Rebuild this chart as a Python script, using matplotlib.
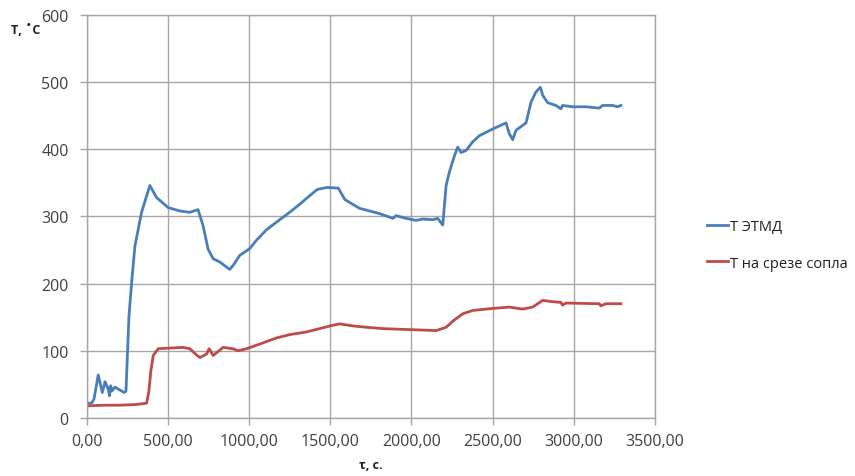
import matplotlib.pyplot as plt
from matplotlib.ticker import FuncFormatter

# ---- data ----
t_etmd = [0, 30, 45, 71, 96, 113, 133, 140, 148, 155, 174, 229, 242, 260, 277, 297,
          338, 389, 430, 502, 574, 635, 686, 717, 748, 779, 820, 881, 902, 943,
          1004, 1044, 1107, 1189, 1250, 1312, 1360, 1420, 1480, 1550, 1590, 1680,
          1805, 1886, 1906, 1968, 2029, 2070, 2132, 2162, 2193, 2214, 2234, 2265,
          2285, 2306, 2337, 2378, 2419, 2501, 2583, 2603, 2624, 2644, 2706, 2737,
          2767, 2794, 2809, 2840, 2890, 2921, 2931, 2993, 3075, 3157, 3177, 3239,
          3270, 3290]
T_etmd = [22, 22, 28, 64, 38, 54, 43, 33, 48, 40, 46, 38, 40, 150, 202, 256,
          306, 346, 328, 313, 308, 306, 310, 286, 251, 237, 232, 221, 227, 242,
          252, 264, 280, 295, 306, 318, 328, 340, 343, 342, 325, 312,
          304, 297, 301, 297, 294, 296, 295, 297, 287, 346, 366, 390,
          403, 395, 398, 411, 420, 430, 439, 423, 414, 428, 439, 470,
          485, 492, 480, 469, 465, 460, 465, 463, 463, 461, 465, 465,
          463, 465]

t_nozzle = [0, 100, 200, 300, 369, 383, 395, 410, 440, 512, 594, 635, 676, 697,
            738, 754, 779, 840, 902, 932, 984, 1066, 1168, 1250, 1353, 1435, 1517,
            1558, 1640, 1722, 1824, 1927, 2050, 2152, 2214, 2260, 2316, 2378, 2501,
            2603, 2685, 2747, 2809, 2870, 2921, 2931, 2952, 3157, 3167, 3198, 3290]
T_nozzle = [18, 19, 19, 20, 22, 40, 70, 93, 103, 104, 105, 103, 94, 90,
            95, 103, 93, 105, 103, 100, 103, 110, 119, 124, 128, 133, 138,
            140, 137, 135, 133, 132, 131, 130, 135, 145, 155, 160, 163,
            165, 162, 165, 175, 173, 172, 168, 171, 170, 167, 170, 170]

series_labels = ['Т ЭТМД', 'Т на срезе сопла']
colors = ['#4a7ebb', '#be4b48']

plt.rcParams['font.family'] = ['Open Sans', 'DejaVu Sans']

fig = plt.figure(figsize=(8.55, 4.77), dpi=100)
ax = fig.add_axes([0.1014, 0.1216, 0.6646, 0.8455])

ax.plot(t_etmd, T_etmd, color=colors[0], linewidth=2.0, label=series_labels[0])
ax.plot(t_nozzle, T_nozzle, color=colors[1], linewidth=2.0, label=series_labels[1])

ax.set_xlim(0, 3500)
ax.set_ylim(0, 600)
ax.set_xticks(range(0, 3501, 500))
ax.set_yticks(range(0, 601, 100))
ax.xaxis.set_major_formatter(FuncFormatter(lambda v, p: f"{v:.2f}".replace('.', ',')))

ax.grid(True, color='#a6a6a6', linewidth=1.0)
ax.set_axisbelow(True)
for s in ax.spines.values():
    s.set_color('#a6a6a6')
    s.set_linewidth(1.0)
ax.tick_params(axis='both', colors='#a6a6a6', labelcolor='#404040',
               labelsize=11.5, length=5, width=1.0)
ax.tick_params(axis='x', pad=6)
ax.tick_params(axis='y', pad=8)

fig.text(26 / 855, 1 - 30 / 477, 'Т, ˚С', fontsize=9, fontweight='bold',
         ha='center', va='center', color='#202020')
fig.text(371 / 855, 1 - 466 / 477, 'τ, с.', fontsize=9, fontweight='bold',
         ha='center', va='center', color='#202020')

fig.legend(loc='center left', bbox_to_anchor=(694 / 855, 1 - 246 / 477),
           frameon=False, fontsize=10.5, handlelength=1.4, handletextpad=0.15,
           labelspacing=1.45, labelcolor='#202020')

fig.savefig('out.png', dpi=100)
